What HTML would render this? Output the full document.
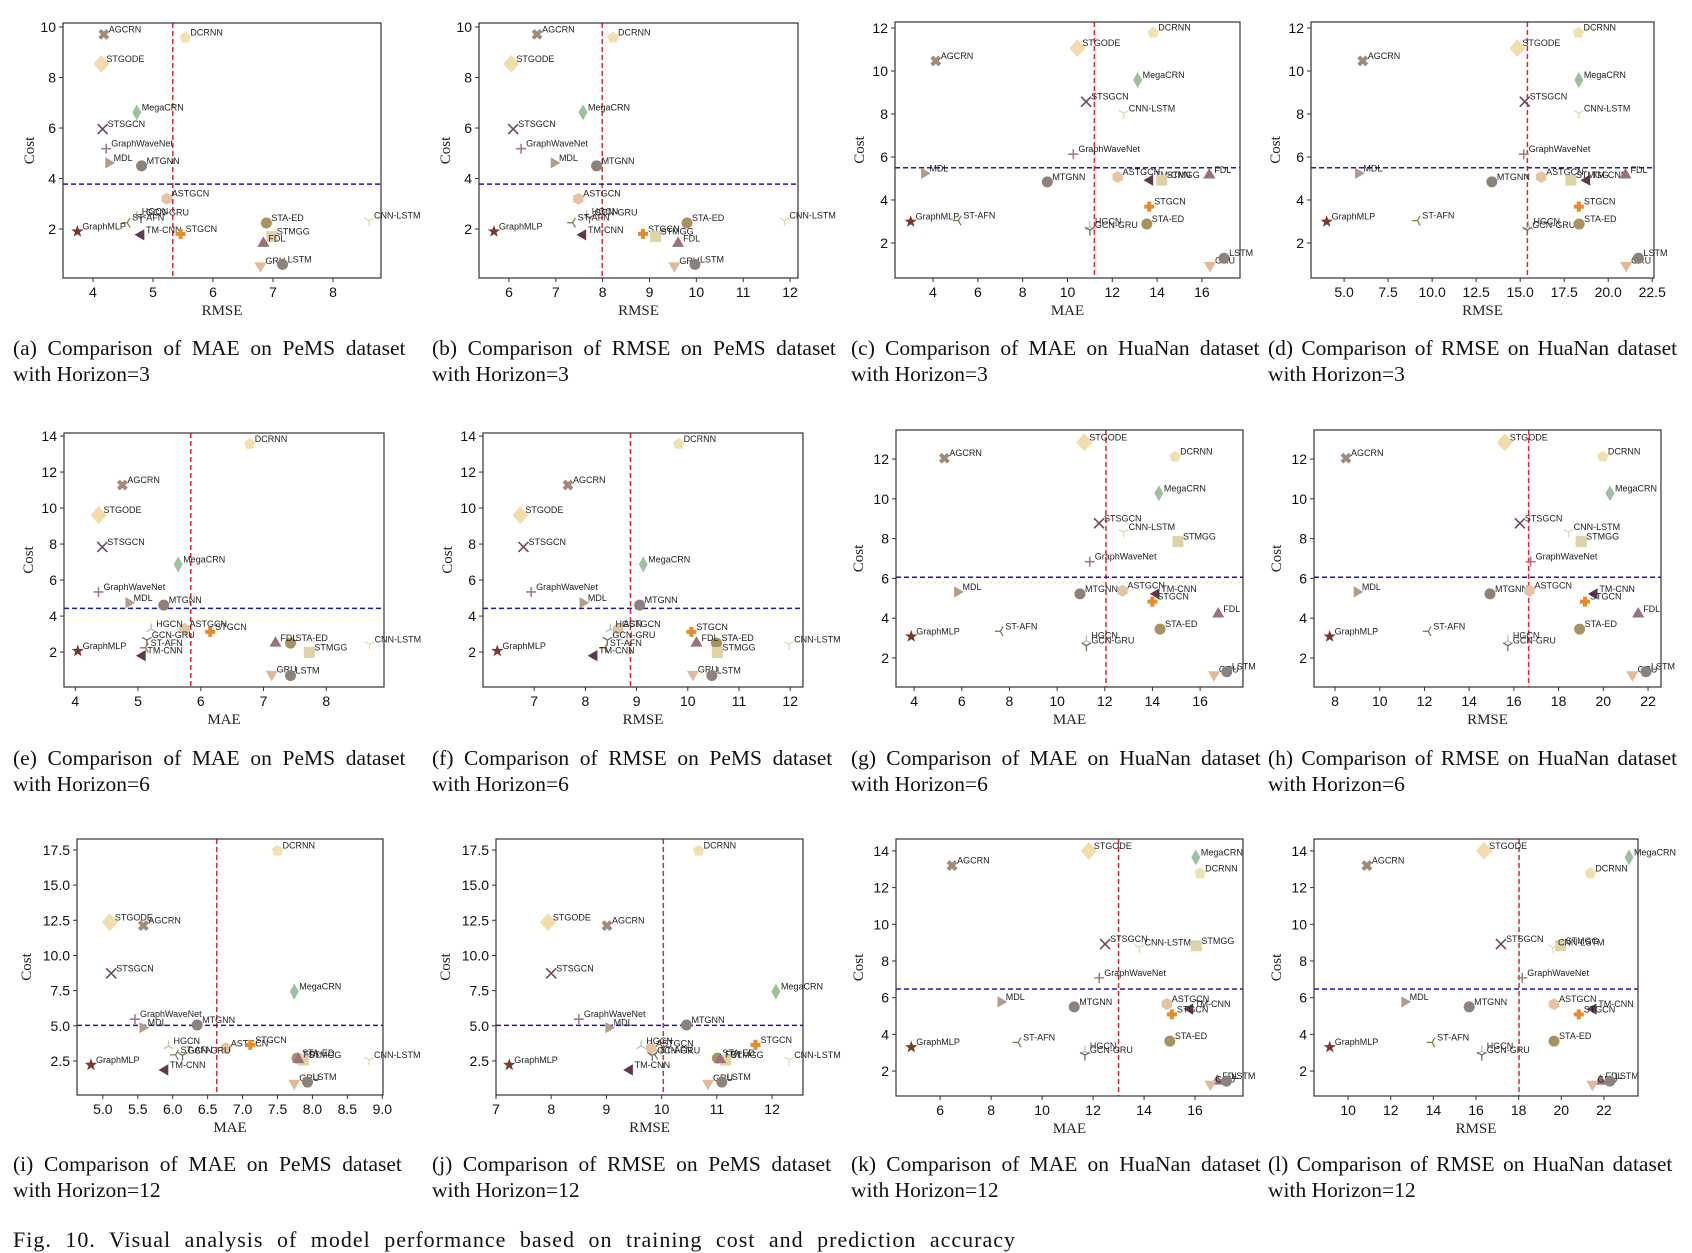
<!DOCTYPE html>
<html><head><meta charset="utf-8">
<style>
html,body{margin:0;padding:0;background:#fff;}
svg{display:block;}
</style></head>
<body>
<svg id="fig" width="1692" height="1253" viewBox="0 0 1692 1253" xmlns="http://www.w3.org/2000/svg">
<rect width="1692" height="1253" fill="#fff"/>
<g id="panels"></g>
<g id="captions" font-family="'Liberation Serif', serif" fill="#111" font-size="21.5">
<text x="13" y="355" word-spacing="5.3">(a) Comparison of MAE on PeMS dataset</text>
<text x="13" y="381">with Horizon=3</text>
<text x="432" y="355" word-spacing="5.2">(b) Comparison of RMSE on PeMS dataset</text>
<text x="432" y="381">with Horizon=3</text>
<text x="851" y="355" word-spacing="4.8">(c) Comparison of MAE on HuaNan dataset</text>
<text x="851" y="381">with Horizon=3</text>
<text x="1268" y="355" word-spacing="2.9">(d) Comparison of RMSE on HuaNan dataset</text>
<text x="1268" y="381">with Horizon=3</text>

<text x="13" y="765" word-spacing="5.3">(e) Comparison of MAE on PeMS dataset</text>
<text x="13" y="791">with Horizon=6</text>
<text x="432" y="765" word-spacing="5.2">(f) Comparison of RMSE on PeMS dataset</text>
<text x="432" y="791">with Horizon=6</text>
<text x="851" y="765" word-spacing="4.8">(g) Comparison of MAE on HuaNan dataset</text>
<text x="851" y="791">with Horizon=6</text>
<text x="1268" y="765" word-spacing="2.9">(h) Comparison of RMSE on HuaNan dataset</text>
<text x="1268" y="791">with Horizon=6</text>

<text x="13" y="1171" word-spacing="5.3">(i) Comparison of MAE on PeMS dataset</text>
<text x="13" y="1197">with Horizon=12</text>
<text x="432" y="1171" word-spacing="5.2">(j) Comparison of RMSE on PeMS dataset</text>
<text x="432" y="1197">with Horizon=12</text>
<text x="851" y="1171" word-spacing="4.8">(k) Comparison of MAE on HuaNan dataset</text>
<text x="851" y="1197">with Horizon=12</text>
<text x="1268" y="1171" word-spacing="2.9">(l) Comparison of RMSE on HuaNan dataset</text>
<text x="1268" y="1197">with Horizon=12</text>

<text x="13" y="1247" font-size="22" letter-spacing="1" word-spacing="7">Fig. 10.  Visual analysis of model performance based on training cost and prediction accuracy</text>
</g>
</svg>
<script>
const models = ['AGCRN','DCRNN','STGODE','MegaCRN','STSGCN','GraphWaveNet','MDL','MTGNN','ASTGCN','HGCN','GCN-GRU','ST-AFN','GraphMLP','TM-CNN','STGCN','STA-ED','STMGG','FDL','GRU','LSTM','CNN-LSTM'];
const markers = ['Xf','pent','dia','tdia','x','plus','tright','circ','hex','tri1','tri2','tri3','star','tleft','Pf','circ','sq','tup','tdown','circ','tri2'];
const colors = ['#a18a7b','#f0e2b0','#f3dcac','#9fbf9f','#6f4b5a','#a67e86','#b39c8a','#8e817a','#e5c3a3','#b4c6ae','#6f6f5f','#8a7b52','#7a3826','#5f3a4f','#e88b2b','#a8925f','#ddd2a8','#9b727a','#e2ba9a','#8a827b','#e8d8ae'];

const costPH3 = [9.71,9.58,8.54,6.62,5.96,5.18,4.62,4.5,3.2,2.5,2.45,2.25,1.9,1.77,1.81,2.24,1.7,1.43,0.54,0.6,2.33];
const costHH3 = [10.47,11.78,11.06,9.58,8.57,6.13,5.24,4.84,5.07,2.76,2.6,3.04,2.99,4.92,3.69,2.88,4.92,5.16,0.95,1.29,8.03];
const costPH6 = [11.28,13.56,9.61,6.87,7.84,5.34,4.74,4.61,3.28,3.28,2.67,2.24,2.06,1.8,3.12,2.5,1.98,2.5,0.76,0.7,2.43];
const costHH6 = [12.04,12.12,12.84,10.28,8.77,6.84,5.32,5.22,5.38,2.87,2.62,3.34,3.08,5.22,4.83,3.45,7.85,4.21,1.16,1.31,8.32];
const costPH12 = [12.12,17.45,12.36,7.43,8.73,5.47,4.87,5.06,3.4,3.57,2.9,2.93,2.22,1.86,3.64,2.7,2.57,2.6,0.92,1.0,2.57];
const costHH12 = [13.2,12.78,14.0,13.65,8.92,7.08,5.77,5.5,5.65,3.09,2.87,3.56,3.3,5.38,5.09,3.63,8.83,1.45,1.28,1.45,8.74];

const errA = [4.18,5.54,4.14,4.73,4.16,4.22,4.26,4.81,5.23,4.73,4.8,4.57,3.74,4.8,5.46,6.89,6.98,6.84,6.79,7.16,8.6];
const errB = [6.6,8.22,6.05,7.58,6.09,6.26,6.96,7.87,7.48,7.66,7.72,7.36,5.68,7.58,8.86,9.8,9.13,9.61,9.53,9.97,11.88];
const errC = [4.12,13.83,10.44,13.13,10.83,10.26,3.61,9.1,12.24,11.0,11.0,5.13,3.0,13.68,13.65,13.54,14.21,16.33,16.36,16.99,12.51];
const errD = [6.06,18.31,14.84,18.33,15.26,15.2,5.81,13.39,16.19,15.47,15.4,9.16,4.01,18.79,18.33,18.35,17.88,20.98,21.02,21.72,18.33];
const errE = [4.75,6.78,4.37,5.64,4.43,4.37,4.85,5.41,5.74,5.21,5.14,5.12,4.04,5.07,6.15,7.43,7.73,7.19,7.13,7.43,8.69];
const errF = [7.66,9.82,6.73,9.13,6.79,6.94,7.95,9.06,8.64,8.49,8.43,8.38,6.28,8.17,10.07,10.56,10.58,10.17,10.1,10.47,11.98];
const errG = [5.27,14.95,11.14,14.27,11.76,11.37,5.82,10.96,12.74,11.23,11.23,7.62,3.88,14.16,14.0,14.32,15.07,16.76,16.58,17.12,12.79];
const errH = [8.49,19.98,15.59,20.3,16.27,16.75,8.98,14.93,16.7,15.73,15.73,12.17,7.76,19.6,19.18,18.94,19.01,21.56,21.3,21.91,18.45];
const errI = [5.58,7.5,5.1,7.74,5.12,5.46,5.57,6.35,6.76,5.94,6.14,6.04,4.83,5.89,7.11,7.78,7.87,7.8,7.74,7.93,8.81];
const errJ = [9.01,10.67,7.94,12.07,8.0,8.5,9.04,10.45,9.81,9.63,9.83,9.88,7.24,9.42,11.7,11.01,11.16,11.06,10.84,11.09,12.31];
const errK = [6.47,16.2,11.83,16.03,12.47,12.24,8.38,11.26,14.89,11.68,11.68,9.06,4.87,15.8,15.09,15.01,16.05,16.87,16.6,17.23,13.82];
const errL = [10.88,21.36,16.38,23.18,17.17,18.17,12.65,15.68,19.66,16.27,16.27,13.94,9.14,21.5,20.82,19.66,19.97,21.84,21.46,22.28,19.61];

const vThresh = [5.33,7.99,11.2,15.41,5.84,8.88,12.05,16.66,6.63,10.03,13.0,18.02];
const hThresh = [3.78,3.78,5.5,5.5,4.43,4.43,6.06,6.06,5.03,5.03,6.47,6.47];

const xTicksA=[4,5,6,7,8], xTicksB=[6,7,8,9,10,11,12], xTicksC=[4,6,8,10,12,14,16], xTicksD=[5,7.5,10,12.5,15,17.5,20,22.5];
const xTicksE=[4,5,6,7,8], xTicksF=[7,8,9,10,11,12], xTicksG=[4,6,8,10,12,14,16], xTicksH=[8,10,12,14,16,18,20,22];
const xTicksI=[5,5.5,6,6.5,7,7.5,8,8.5,9], xTicksJ=[7,8,9,10,11,12], xTicksK=[6,8,10,12,14,16], xTicksL=[10,12,14,16,18,20,22];
const yTicks10=[2,4,6,8,10], yTicks12=[2,4,6,8,10,12], yTicks14=[2,4,6,8,10,12,14], yTicks175=[2.5,5,7.5,10,12.5,15,17.5];

const panels = [
 {id:'a',L:63,R:381,T:23,B:278,x0:3.5,x1:8.8,y0:0.06,y1:10.16,xs:errA,ys:costPH3,xt:xTicksA,yt:yTicks10,xl:'RMSE',fmt:0,yo:29},
 {id:'b',L:479,R:798,T:23,B:278,x0:5.36,x1:12.17,y0:0.06,y1:10.16,xs:errB,ys:costPH3,xt:xTicksB,yt:yTicks10,xl:'RMSE',fmt:0,yo:29},
 {id:'c',L:895,R:1240,T:22,B:278,x0:2.3,x1:17.7,y0:0.37,y1:12.28,xs:errC,ys:costHH3,xt:xTicksC,yt:yTicks12,xl:'MAE',fmt:0,yo:31},
 {id:'d',L:1311,R:1654,T:22,B:278,x0:3.12,x1:22.6,y0:0.37,y1:12.28,xs:errD,ys:costHH3,xt:xTicksD,yt:yTicks12,xl:'RMSE',fmt:1,yo:31},
 {id:'e',L:64,R:384,T:433,B:687,x0:3.82,x1:8.92,y0:0.06,y1:14.17,xs:errE,ys:costPH6,xt:xTicksE,yt:yTicks14,xl:'MAE',fmt:0,yo:31},
 {id:'f',L:483,R:803,T:433,B:687,x0:6.0,x1:12.25,y0:0.06,y1:14.17,xs:errF,ys:costPH6,xt:xTicksF,yt:yTicks14,xl:'RMSE',fmt:0,yo:31},
 {id:'g',L:896,R:1243,T:430,B:687,x0:3.24,x1:17.8,y0:0.54,y1:13.46,xs:errG,ys:costHH6,xt:xTicksG,yt:yTicks12,xl:'MAE',fmt:0,yo:33},
 {id:'h',L:1314,R:1661,T:430,B:687,x0:7.06,x1:22.58,y0:0.54,y1:13.46,xs:errH,ys:costHH6,xt:xTicksH,yt:yTicks12,xl:'RMSE',fmt:0,yo:33},
 {id:'i',L:77,R:383,T:839,B:1095,x0:4.63,x1:9.01,y0:0.08,y1:18.28,xs:errI,ys:costPH12,xt:xTicksI,yt:yTicks175,xl:'MAE',fmt:1,yo:46},
 {id:'j',L:496,R:803,T:839,B:1095,x0:7,x1:12.56,y0:0.08,y1:18.28,xs:errJ,ys:costPH12,xt:xTicksJ,yt:yTicks175,xl:'RMSE',fmt:0,yo:46},
 {id:'k',L:896,R:1243,T:839,B:1096,x0:4.27,x1:17.88,y0:0.64,y1:14.65,xs:errK,ys:costHH12,xt:xTicksK,yt:yTicks14,xl:'MAE',fmt:0,yo:33},
 {id:'l',L:1314,R:1638,T:839,B:1096,x0:8.4,x1:23.6,y0:0.64,y1:14.65,xs:errL,ys:costHH12,xt:xTicksL,yt:yTicks14,xl:'RMSE',fmt:0,yo:33}
];

const NS='http://www.w3.org/2000/svg';
function el(tag, attrs, parent){const e=document.createElementNS(NS,tag);for(const k in attrs)e.setAttribute(k,attrs[k]);parent.appendChild(e);return e;}
function poly(n,r,rot,cx,cy){let p=[];for(let i=0;i<n;i++){const a=rot+i*2*Math.PI/n;p.push((cx+r*Math.cos(a)).toFixed(1)+','+(cy+r*Math.sin(a)).toFixed(1));}return p.join(' ');}

function drawMarker(g,type,cx,cy,col){
  let m;
  switch(type){
    case 'Xf': m=el('path',{d:`M${cx-4},${cy-4}L${cx+4},${cy+4}M${cx+4},${cy-4}L${cx-4},${cy+4}`,stroke:col,'stroke-width':4},g);break;
    case 'Pf': m=el('path',{d:`M${cx-5},${cy}L${cx+5},${cy}M${cx},${cy-5}L${cx},${cy+5}`,stroke:col,'stroke-width':4},g);break;
    case 'pent': m=el('polygon',{points:poly(5,6,-Math.PI/2,cx,cy),fill:col},g);break;
    case 'hex': m=el('polygon',{points:poly(6,6,-Math.PI/2,cx,cy),fill:col},g);break;
    case 'dia': m=el('polygon',{points:`${cx},${cy-9} ${cx+8},${cy} ${cx},${cy+9} ${cx-8},${cy}`,fill:col},g);break;
    case 'tdia': m=el('polygon',{points:`${cx},${cy-8} ${cx+4.5},${cy} ${cx},${cy+8} ${cx-4.5},${cy}`,fill:col},g);break;
    case 'x': m=el('path',{d:`M${cx-5},${cy-5}L${cx+5},${cy+5}M${cx+5},${cy-5}L${cx-5},${cy+5}`,stroke:col,'stroke-width':1.6,fill:'none'},g);break;
    case 'plus': m=el('path',{d:`M${cx-5},${cy}L${cx+5},${cy}M${cx},${cy-5}L${cx},${cy+5}`,stroke:col,'stroke-width':1.6,fill:'none'},g);break;
    case 'tright': m=el('polygon',{points:poly(3,6.5,0,cx,cy),fill:col},g);break;
    case 'tleft': m=el('polygon',{points:poly(3,6.5,Math.PI,cx,cy),fill:col},g);break;
    case 'tup': m=el('polygon',{points:poly(3,7,-Math.PI/2,cx,cy),fill:col},g);break;
    case 'tdown': m=el('polygon',{points:poly(3,7,Math.PI/2,cx,cy),fill:col},g);break;
    case 'circ': m=el('circle',{cx:cx,cy:cy,r:5.5,fill:col},g);break;
    case 'sq': m=el('rect',{x:cx-5.5,y:cy-5.5,width:11,height:11,fill:col},g);break;
    case 'star': {let p=[];for(let i=0;i<10;i++){const r=i%2?2.6:6.5;const a=-Math.PI/2+i*Math.PI/5;p.push((cx+r*Math.cos(a)).toFixed(1)+','+(cy+r*Math.sin(a)).toFixed(1));}m=el('polygon',{points:p.join(' '),fill:col},g);break;}
    default: {
      const rot = type==='tri1'?-Math.PI/2:(type==='tri2'?Math.PI/2:Math.PI);
      let d='';for(let i=0;i<3;i++){const a=rot+i*2*Math.PI/3;d+=`M${cx},${cy}L${(cx+5.5*Math.cos(a)).toFixed(1)},${(cy+5.5*Math.sin(a)).toFixed(1)}`;}
      m=el('path',{d:d,stroke:col,'stroke-width':1.3,fill:'none'},g);
    }
  }
  return m;
}

const root=document.getElementById('panels');
panels.forEach((P,pi)=>{
  const g=el('g',{},root);
  
  
  const sx=v=>P.L+(v-P.x0)/(P.x1-P.x0)*(P.R-P.L);
  const sy=v=>P.B-(v-P.y0)/(P.y1-P.y0)*(P.B-P.T);
  const tg=el('g',{'font-family':"'Liberation Sans', sans-serif",'font-size':14,fill:'#111'},g);
  
  
  P.xt.forEach(t=>{const x=sx(t);el('line',{x1:x,x2:x,y1:P.B,y2:P.B+4,stroke:'#333','stroke-width':1},tg);
    const tx=el('text',{x:x,y:P.B+19,'text-anchor':'middle'},tg);tx.textContent=P.fmt?t.toFixed(1):String(t);
    
    });
  P.yt.forEach(t=>{const y=sy(t);el('line',{x1:P.L-4,x2:P.L,y1:y,y2:y,stroke:'#333','stroke-width':1},tg);
    const tx=el('text',{x:P.L-7,y:y+5,'text-anchor':'end'},tg);tx.textContent=(P.yt===yTicks175)?t.toFixed(1):String(t);
    
    });
  const xl=el('text',{x:(P.L+P.R)/2,y:P.B+37,'text-anchor':'middle','font-family':"'Liberation Serif', serif",'font-size':15,fill:'#222'},g);
  xl.textContent=P.xl;
  
  
  const cyl=(P.T+P.B)/2, ylx=P.L-P.yo;
  const yl=el('text',{x:ylx,y:cyl,'text-anchor':'middle','font-family':"'Liberation Serif', serif",'font-size':15,fill:'#222',transform:`rotate(-90 ${ylx} ${cyl})`},g);
  yl.textContent='Cost';
  
  
  const vl=el('line',{x1:sx(vThresh[pi]),x2:sx(vThresh[pi]),y1:P.T,y2:P.B,stroke:'#e3262b','stroke-width':1.5,'stroke-dasharray':'5,3'},g);
  
  
  const hl=el('line',{x1:P.L,x2:P.R,y1:sy(hThresh[pi]),y2:sy(hThresh[pi]),stroke:'#1a1ab8','stroke-width':1.5,'stroke-dasharray':'5,3'},g);
  
  
  models.forEach((name,i)=>{
    const cx=sx(P.xs[i]), cy=sy(P.ys[i]);
    const pg=el('g',{},g);
    
    
    drawMarker(pg,markers[i],cx,cy,colors[i]);
    const lb=el('text',{x:cx+5,y:cy-2,'font-family':"'Liberation Sans', sans-serif",'font-size':9,fill:'#222'},pg);
    lb.textContent=name;
  });
  const fr=el('rect',{x:P.L,y:P.T,width:P.R-P.L,height:P.B-P.T,fill:'none',stroke:'#333','stroke-width':1.2},g);
  
  
});
</script>
</body></html>
